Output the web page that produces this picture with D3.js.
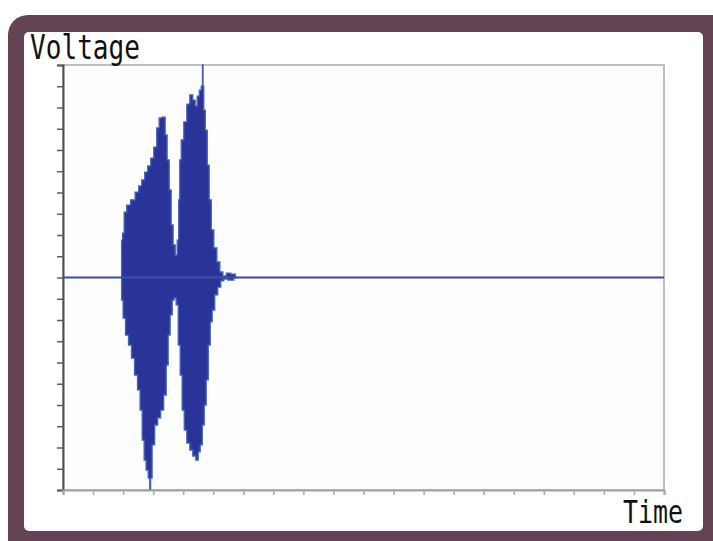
<!DOCTYPE html>
<html>
<head>
<meta charset="utf-8">
<script src="https://cdn.jsdelivr.net/npm/d3@7"></script>
<style>
  html, body { margin: 0; padding: 0; background: #ffffff; }
  svg { display: block; }
</style>
</head>
<body>
<svg id="chart" width="713" height="541"></svg>
<script>
// ---- Data ----
// time axis: 20 divisions, voltage axis: -10..10 divisions
const xTickValues = [0,1,2,3,4,5,6,7,8,9,10,11,12,13,14,15,16,17,18,19,20];
const yTickValues = [-10,-9,-8,-7,-6,-5,-4,-3,-2,-1,0,1,2,3,4,5,6,7,8,9,10];

// upper envelope of the waveform
const upperTime = [1.93,1.97,2.0,2.07,2.17,2.33,2.47,2.57,2.67,2.77,2.87,2.97,3.07,3.17,3.23,3.37,3.43,3.5,3.57,3.63,3.7,3.77,3.83,3.87,3.9,3.97,4.07,4.17,4.27,4.37,4.43,4.5,4.57,4.63,4.65,4.67,4.7,4.77,4.83,4.9,4.97,5.07,5.17,5.27,5.37,5.5,5.67,5.8];
const upperVolt = [0,1.76,2.09,3.08,3.41,3.65,4.02,4.31,4.59,4.96,5.25,5.62,6.14,7.04,7.51,7.55,6.71,5.53,4.12,2.47,1.53,1.06,1.76,3.65,5.53,6.47,7.32,8.16,8.59,8.35,8.07,8.54,8.82,9.01,10.0,9.01,7.88,6.94,5.29,3.65,2.24,1.39,0.73,0.26,0.07,0.21,0.16,0];

// lower envelope of the waveform
const lowerTime = [1.93,1.97,2.03,2.13,2.23,2.33,2.43,2.53,2.6,2.67,2.73,2.8,2.87,2.9,2.93,3.0,3.1,3.2,3.3,3.4,3.47,3.53,3.6,3.67,3.73,3.8,3.87,3.93,4.0,4.07,4.17,4.27,4.37,4.47,4.53,4.6,4.67,4.73,4.8,4.87,4.93,5.0,5.1,5.2,5.3,5.4,5.57,5.8];
const lowerVolt = [0,-1.06,-1.91,-2.71,-3.18,-3.79,-4.59,-5.29,-6.24,-7.65,-8.59,-9.06,-9.44,-10.0,-9.44,-7.88,-6.94,-6.61,-6.24,-5.53,-4.12,-2.71,-1.76,-1.06,-0.96,-1.29,-3.18,-4.59,-6.24,-7.18,-7.79,-8.12,-8.40,-8.59,-8.21,-7.88,-6.94,-6.0,-4.82,-3.18,-2.09,-1.53,-0.82,-0.45,-0.16,-0.07,-0.12,0];

// quiet signal (baseline trace)
const baseTime = [0, 20];
const baseVolt = [0, 0];

const yLabel = "Voltage";
const xLabel = "Time";

// ---- Drawing ----
const svg = d3.select("#chart");

// frame
svg.append("rect").attr("x", 8).attr("y", 15).attr("width", 725).attr("height", 560)
  .attr("rx", 20).attr("fill", "#644354");
svg.append("rect").attr("x", 24).attr("y", 32).attr("width", 679).attr("height", 499)
  .attr("rx", 5).attr("fill", "#ffffff");

const plot = {left: 63, right: 664, top: 65, bottom: 490};

const x = d3.scaleLinear().domain([0, 20]).range([plot.left, plot.right]);
const y = d3.scaleLinear().domain([-10, 10]).range([plot.bottom, plot.top]);

// plot background + light border
svg.append("rect").attr("x", plot.left).attr("y", plot.top)
  .attr("width", plot.right - plot.left).attr("height", plot.bottom - plot.top)
  .attr("fill", "#fdfdfe").attr("stroke", "#bcc0c8").attr("stroke-width", 2);

// waveform
const g = svg.append("g");
const upperPts = upperTime.map((t, i) => [t, upperVolt[i]]);
const lowerPts = lowerTime.map((t, i) => [t, lowerVolt[i]]);
const area = d3.area().curve(d3.curveStep).x(d => x(d[0])).y0(y(0)).y1(d => y(d[1]));

[upperPts, lowerPts].forEach(pts => {
  g.append("path").datum(pts).attr("d", area)
    .attr("fill", "#2a3498").attr("stroke", "#4562ba").attr("stroke-width", 1.3)
    .attr("stroke-linejoin", "miter");
});

// baseline trace
const line = d3.line().x(d => x(d[0])).y(d => y(d[1]));
g.append("path").datum(baseTime.map((t, i) => [t, baseVolt[i]]))
  .attr("d", line).attr("fill", "none").attr("stroke", "#3c4c9c").attr("stroke-width", 2.2);

// axes
const yAxis = d3.axisLeft(y).tickValues(yTickValues).tickSize(6).tickFormat("");
const yG = svg.append("g").attr("transform", `translate(${plot.left},0)`).call(yAxis);
yG.select(".domain").attr("stroke", "#4e4e58").attr("stroke-width", 2);
yG.selectAll(".tick line").attr("stroke", "#5a5a64").attr("stroke-width", 1.5);

const xAxis = d3.axisBottom(x).tickValues(xTickValues).tickSize(5).tickFormat("");
const xG = svg.append("g").attr("transform", `translate(0,${plot.bottom})`).call(xAxis);
xG.select(".domain").attr("stroke", "#9ea2ac").attr("stroke-width", 2);
xG.selectAll(".tick line").attr("stroke", "#a4a8b0").attr("stroke-width", 1.5);

// labels
svg.append("text").attr("x", 30).attr("y", 59)
  .attr("font-family", "'DejaVu Sans Mono', monospace").attr("font-size", 34)
  .attr("textLength", 110).attr("lengthAdjust", "spacingAndGlyphs")
  .attr("fill", "#111111").text(yLabel);

svg.append("text").attr("x", 623).attr("y", 523)
  .attr("font-family", "'DejaVu Sans Mono', monospace").attr("font-size", 32)
  .attr("textLength", 60).attr("lengthAdjust", "spacingAndGlyphs")
  .attr("fill", "#111111").text(xLabel);
</script>
</body>
</html>
